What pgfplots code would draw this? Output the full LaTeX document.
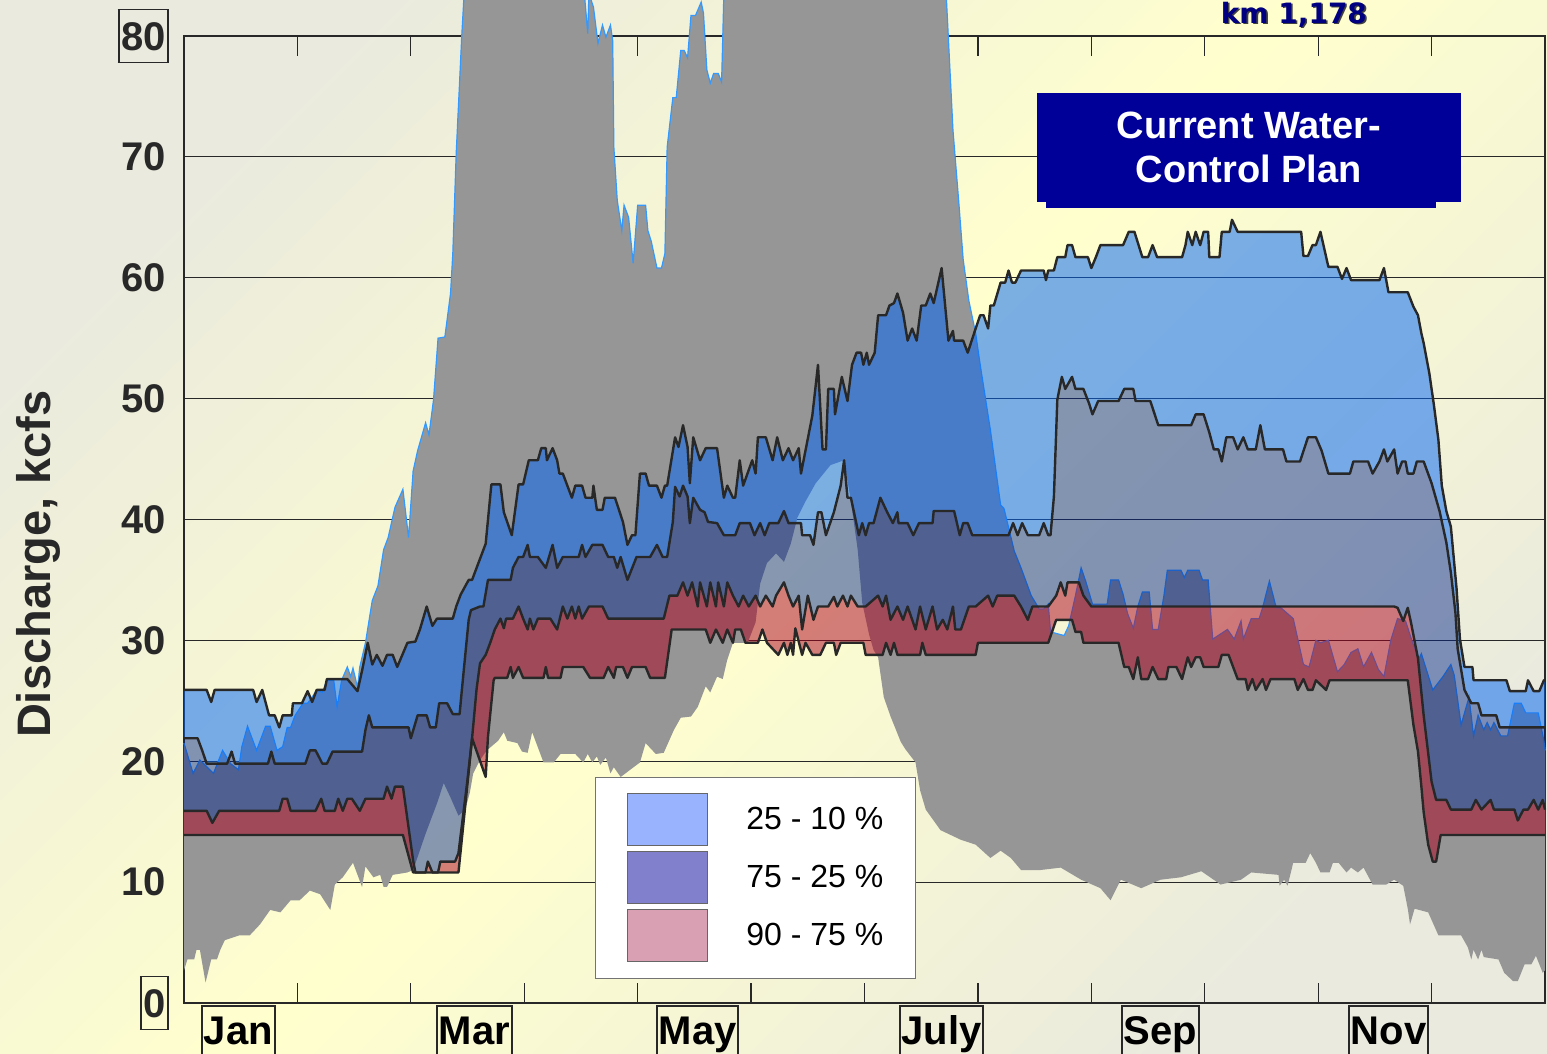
\documentclass[border=0pt]{standalone}
\usepackage{fontspec}
\setmainfont{Liberation Sans}
\newfontfamily\dejavu{DejaVu Sans}
\usepackage{pgfplots}
\usepackage{pgfplotstable}
\pgfplotsset{compat=1.18}
\usepgfplotslibrary{fillbetween}
\definecolor{bgGray}{RGB}{234,234,222}
\definecolor{bgYellow}{RGB}{255,255,206}
\definecolor{grayEnv}{RGB}{150,150,150}
\definecolor{edgeBlue}{RGB}{51,153,255}
\definecolor{bandA}{RGB}{2,102,246}
\definecolor{bandB}{RGB}{0,36,140}
\definecolor{bandC}{RGB}{171,0,30}
\definecolor{legA}{RGB}{153,179,255}
\definecolor{legB}{RGB}{128,128,204}
\definecolor{legC}{RGB}{217,160,180}
\definecolor{navy}{RGB}{0,0,153}
\definecolor{kmnavy}{RGB}{0,0,128}
\definecolor{outline}{RGB}{40,40,40}

\pgfplotstableread{
x y
0.00 25.9
0.20 25.9
0.24 24.9
0.27 25.9
0.61 25.9
0.64 24.9
0.69 25.9
0.75 23.8
0.80 23.8
0.84 22.8
0.87 23.8
0.95 23.8
0.96 24.8
1.04 24.8
1.09 25.8
1.13 24.9
1.17 25.9
1.24 25.9
1.26 26.8
1.44 26.8
1.53 25.8
1.57 27.5
1.62 29.8
1.66 28.0
1.70 28.8
1.75 27.9
1.79 28.8
1.84 28.8
1.88 27.8
1.97 29.8
2.04 29.9
2.08 30.9
2.14 32.8
2.19 31.2
2.23 31.8
2.37 31.8
2.40 32.8
2.44 33.8
2.51 35.0
2.54 35.0
2.66 38.0
2.71 42.9
2.79 42.9
2.82 40.6
2.89 38.7
2.95 42.9
2.99 42.9
3.04 44.9
3.12 44.9
3.15 45.9
3.19 45.9
3.20 44.9
3.25 45.9
3.29 44.9
3.31 43.8
3.34 43.8
3.42 41.8
3.45 42.8
3.51 42.8
3.54 41.8
3.60 41.8
3.61 42.8
3.64 40.8
3.69 40.8
3.71 41.8
3.80 41.8
3.87 39.8
3.91 37.9
3.95 38.7
3.98 38.7
4.02 43.8
4.07 43.8
4.10 42.8
4.17 42.8
4.21 41.8
4.24 42.8
4.26 42.8
4.33 46.8
4.36 46.0
4.40 47.8
4.44 46.0
4.46 43.0
4.49 46.8
4.55 44.9
4.60 45.9
4.70 45.9
4.76 41.8
4.79 42.8
4.84 41.8
4.86 41.8
4.90 44.9
4.93 42.8
5.01 44.9
5.04 43.8
5.06 46.8
5.13 46.8
5.19 44.9
5.23 46.8
5.28 44.9
5.33 45.9
5.37 44.9
5.42 45.9
5.44 43.8
5.54 48.6
5.59 52.8
5.63 45.8
5.66 45.8
5.68 50.8
5.73 50.8
5.74 48.7
5.80 51.8
5.85 49.8
5.89 52.8
5.93 53.8
5.97 53.8
5.99 52.8
6.02 53.8
6.04 52.8
6.09 53.8
6.12 56.9
6.19 56.9
6.22 57.7
6.26 57.9
6.29 58.7
6.34 57.1
6.38 54.8
6.42 55.8
6.46 54.8
6.50 57.7
6.54 57.7
6.58 58.7
6.61 57.9
6.68 60.8
6.74 54.8
6.78 55.6
6.79 54.8
6.87 54.8
6.91 53.8
6.98 55.8
7.02 56.9
7.05 56.9
7.09 55.8
7.11 57.7
7.14 57.7
7.20 59.6
7.24 59.6
7.27 60.6
7.30 59.6
7.33 59.6
7.38 60.6
7.58 60.6
7.60 59.8
7.62 60.6
7.67 60.6
7.70 61.7
7.77 61.7
7.79 62.7
7.83 62.7
7.86 61.7
7.97 61.7
8.00 60.8
8.04 61.7
8.08 62.7
8.28 62.7
8.33 63.8
8.38 63.8
8.45 61.7
8.50 61.7
8.54 62.7
8.58 61.7
8.80 61.7
8.83 62.7
8.85 63.8
8.89 62.7
8.92 63.8
8.96 62.7
8.99 63.8
9.03 63.8
9.04 61.7
9.13 61.7
9.15 63.8
9.22 63.8
9.24 64.8
9.29 63.8
9.85 63.8
9.87 61.8
9.91 61.8
9.95 62.7
9.98 62.7
10.02 63.8
10.09 60.9
10.17 60.9
10.21 59.9
10.25 60.8
10.29 59.8
10.54 59.8
10.58 60.8
10.62 58.8
10.79 58.8
10.84 57.6
10.88 56.9
10.91 55.4
10.93 54.6
10.98 52.1
11.02 49.5
11.06 46.6
11.09 42.8
11.13 40.7
11.17 39.4
11.22 34.3
11.25 30.1
11.29 27.8
11.36 27.8
11.37 26.7
11.66 26.7
11.69 25.8
11.83 25.8
11.85 26.7
11.90 25.8
11.95 25.8
11.99 26.7
12.00 26.7
}\Lten

\pgfplotstableread{
x y
0.00 21.9
0.12 21.9
0.16 20.9
0.20 19.8
0.38 19.8
0.42 20.8
0.45 19.8
0.74 19.8
0.77 20.8
0.80 19.8
1.07 19.8
1.11 20.9
1.16 20.9
1.22 19.8
1.26 19.8
1.31 20.8
1.57 20.8
1.60 22.6
1.63 23.8
1.66 22.8
1.98 22.8
2.00 21.9
2.06 23.8
2.14 23.8
2.17 22.8
2.22 22.8
2.25 24.8
2.32 24.8
2.37 23.9
2.43 23.9
2.45 25.9
2.51 31.7
2.53 32.5
2.61 32.8
2.64 32.8
2.68 35.0
2.88 35.0
2.90 36.0
2.95 36.9
2.99 36.9
3.03 37.9
3.05 36.9
3.12 36.9
3.19 36.0
3.25 37.9
3.29 36.0
3.34 36.9
3.48 36.9
3.51 37.9
3.54 36.9
3.60 37.9
3.69 37.9
3.74 36.9
3.79 36.9
3.82 36.0
3.85 36.9
3.91 35.0
3.99 36.9
4.11 36.9
4.17 37.9
4.22 36.9
4.26 36.9
4.31 39.8
4.33 42.7
4.37 41.9
4.40 42.8
4.44 41.9
4.46 39.7
4.49 41.8
4.55 40.8
4.59 40.6
4.62 39.8
4.70 39.7
4.76 38.7
4.86 38.7
4.90 39.7
4.99 39.7
5.03 38.7
5.08 39.7
5.12 38.7
5.16 39.7
5.24 39.7
5.29 40.7
5.33 39.7
5.44 39.7
5.45 38.7
5.52 38.7
5.55 37.9
5.59 40.6
5.62 40.6
5.66 38.7
5.73 40.6
5.79 42.8
5.82 44.9
5.85 41.8
5.88 41.8
5.95 38.7
5.98 39.7
6.01 38.7
6.04 39.7
6.08 39.7
6.14 41.8
6.20 40.6
6.25 39.7
6.29 40.6
6.30 39.7
6.38 39.7
6.43 38.7
6.48 39.7
6.60 39.7
6.61 40.7
6.79 40.7
6.84 38.7
6.87 39.7
6.91 39.7
6.95 38.7
7.27 38.7
7.31 39.7
7.35 38.7
7.39 39.7
7.44 38.7
7.54 38.7
7.58 39.7
7.62 38.7
7.64 38.7
7.67 41.9
7.70 49.9
7.74 51.8
7.77 50.8
7.83 51.8
7.86 50.8
7.93 50.8
7.98 49.6
8.01 48.7
8.06 49.8
8.24 49.8
8.29 50.8
8.37 50.8
8.39 49.8
8.52 49.8
8.59 47.8
8.88 47.8
8.92 48.7
8.99 48.7
9.04 47.2
9.08 45.8
9.12 45.8
9.15 44.8
9.19 46.8
9.25 46.8
9.29 45.8
9.34 46.8
9.38 45.8
9.45 45.8
9.49 47.8
9.53 45.8
9.69 45.8
9.72 44.8
9.84 44.8
9.91 46.8
9.98 46.8
10.03 45.7
10.09 43.8
10.28 43.8
10.31 44.8
10.44 44.8
10.48 43.8
10.54 44.8
10.58 45.8
10.61 44.8
10.67 45.8
10.70 43.8
10.74 44.8
10.77 44.8
10.79 43.8
10.84 43.8
10.87 44.8
10.93 44.8
11.00 43.0
11.07 40.7
11.13 38.1
11.17 35.6
11.21 32.3
11.23 29.3
11.29 25.9
11.35 24.8
11.41 24.8
11.44 23.8
11.57 23.8
11.60 22.8
12.00 22.8
}\Ltwentyfive

\pgfplotstableread{
x y
0.00 15.9
0.20 15.9
0.25 14.9
0.31 15.9
0.84 15.9
0.87 16.9
0.91 16.9
0.94 15.9
1.16 15.9
1.21 16.9
1.24 15.9
1.33 15.9
1.36 16.9
1.40 15.9
1.44 16.9
1.48 16.9
1.55 15.9
1.60 16.9
1.76 16.9
1.79 17.9
1.83 16.9
1.86 17.9
1.93 17.9
2.02 11.8
2.04 10.8
2.13 10.8
2.15 11.7
2.19 10.8
2.24 10.8
2.26 11.7
2.39 11.7
2.42 12.4
2.50 18.5
2.54 21.9
2.58 26.0
2.61 28.1
2.66 28.8
2.70 29.8
2.74 30.9
2.79 31.8
2.82 31.0
2.84 31.8
2.90 31.8
2.95 32.8
2.99 31.8
3.03 30.9
3.05 31.8
3.08 30.9
3.12 31.8
3.23 31.8
3.29 30.9
3.34 32.8
3.38 31.8
3.42 32.8
3.45 31.8
3.48 32.8
3.51 31.8
3.57 32.8
3.69 32.8
3.74 31.8
4.23 31.8
4.28 33.7
4.35 33.7
4.40 34.8
4.44 33.7
4.48 34.8
4.53 32.8
4.55 34.8
4.61 32.8
4.64 34.8
4.69 32.8
4.71 34.8
4.76 32.8
4.79 34.8
4.84 33.7
4.89 32.8
4.93 33.7
4.98 32.8
5.04 33.7
5.08 32.8
5.13 33.7
5.19 32.8
5.22 33.7
5.29 34.8
5.33 33.7
5.37 32.8
5.42 33.7
5.45 30.9
5.50 33.7
5.55 31.7
5.59 32.8
5.68 32.8
5.73 33.6
5.76 32.8
5.81 33.7
5.85 32.8
5.88 33.7
5.94 32.8
6.01 32.8
6.12 33.7
6.16 32.8
6.19 33.7
6.23 31.7
6.29 32.8
6.34 31.7
6.38 32.8
6.45 30.9
6.49 32.8
6.54 30.9
6.60 32.8
6.64 30.9
6.69 31.7
6.73 30.9
6.78 32.8
6.80 30.9
6.85 30.9
6.92 32.8
6.98 32.8
7.09 33.7
7.13 32.8
7.17 33.7
7.32 33.7
7.38 32.8
7.44 31.7
7.48 32.8
7.62 32.8
7.69 33.7
7.73 34.8
7.77 33.7
7.79 34.8
7.89 34.8
7.93 33.7
8.00 32.8
10.67 32.8
10.70 32.7
10.75 31.6
10.79 32.7
10.82 31.4
10.88 28.5
10.93 23.8
11.00 18.3
11.04 16.8
11.13 16.8
11.17 16.0
11.35 16.0
11.39 16.8
11.44 16.0
11.52 16.8
11.55 16.0
11.73 16.0
11.76 15.1
11.81 16.0
11.85 16.0
11.90 16.8
11.94 16.0
11.98 16.8
12.00 16.0
}\Lseventyfive

\pgfplotstableread{
x y
0.00 13.9
1.93 13.9
2.02 10.8
2.42 10.8
2.54 21.9
2.66 18.7
2.68 22.0
2.73 26.7
2.74 26.9
2.85 26.9
2.88 27.8
2.90 26.9
2.95 27.8
2.99 26.9
3.17 26.9
3.19 27.8
3.21 26.9
3.32 26.9
3.34 27.8
3.52 27.8
3.58 26.9
3.70 26.9
3.74 27.8
3.79 26.9
3.81 27.8
3.87 27.8
3.91 26.9
3.95 27.8
4.07 27.8
4.11 26.9
4.24 26.9
4.30 30.9
4.60 30.9
4.64 29.8
4.69 30.9
4.75 29.8
4.79 30.9
4.84 29.8
4.86 30.9
4.91 30.9
4.95 29.8
5.06 29.8
5.10 30.9
5.14 29.8
5.24 28.8
5.29 29.8
5.32 28.8
5.35 29.8
5.37 28.8
5.39 31.0
5.45 28.8
5.48 29.8
5.54 28.8
5.61 28.8
5.66 29.8
5.73 29.8
5.75 28.8
5.79 29.8
5.99 29.8
6.01 28.8
6.16 28.8
6.19 29.8
6.23 28.8
6.26 29.8
6.29 28.8
6.49 28.8
6.51 29.8
6.54 28.8
6.98 28.8
7.00 29.8
7.62 29.8
7.69 31.7
7.83 31.7
7.86 30.7
7.91 30.7
7.93 29.8
8.24 29.8
8.29 27.8
8.33 27.8
8.37 26.8
8.41 28.6
8.44 26.8
8.50 26.8
8.54 27.8
8.59 26.8
8.66 26.8
8.68 27.8
8.75 27.8
8.80 26.8
8.85 28.6
8.88 27.8
8.92 28.6
8.96 28.6
8.99 27.8
9.12 27.8
9.15 28.8
9.21 28.8
9.25 27.8
9.29 26.8
9.36 26.8
9.38 25.9
9.42 26.8
9.45 25.9
9.51 26.8
9.54 25.9
9.58 26.8
9.79 26.8
9.82 25.9
9.87 26.8
9.91 25.9
9.95 25.9
9.98 26.7
10.07 25.9
10.10 26.7
10.79 26.7
10.84 23.0
10.88 20.8
10.91 17.9
10.93 15.8
10.97 13.1
11.01 11.7
11.04 11.7
11.08 13.9
12.00 13.9
}\Lninety

\pgfplotstableread{
x y
0.00 21.5
0.08 19.0
0.14 20.1
0.26 19.0
0.34 20.9
0.41 19.8
0.48 19.3
0.51 21.2
0.56 22.9
0.64 20.9
0.72 22.9
0.76 22.9
0.82 20.9
0.87 21.2
0.91 22.8
0.94 22.8
0.98 23.8
1.05 24.8
1.09 24.8
1.13 25.3
1.17 25.9
1.22 25.7
1.26 26.7
1.32 26.7
1.35 24.5
1.39 26.7
1.44 27.8
1.47 27.0
1.49 27.7
1.53 26.1
1.55 27.8
1.60 29.8
1.66 33.3
1.71 34.5
1.76 37.5
1.80 38.5
1.86 41.0
1.93 42.5
1.98 38.5
2.02 44.0
2.06 45.7
2.13 48.0
2.16 47.0
2.20 49.9
2.24 55.0
2.30 55.1
2.35 58.7
2.37 62.0
2.40 70.3
2.45 80.2
2.47 83.5
3.53 83.5
3.56 80.2
3.57 83.5
3.61 82.4
3.65 79.4
3.69 80.9
3.72 79.9
3.76 80.9
3.78 79.6
3.79 70.8
3.82 66.4
3.86 63.9
3.88 66.0
3.92 65.0
3.96 61.2
4.00 66.0
4.07 66.0
4.09 63.9
4.12 63.0
4.17 60.8
4.21 60.8
4.24 62.0
4.26 70.8
4.31 74.9
4.34 74.9
4.38 78.8
4.41 78.8
4.44 78.2
4.47 81.7
4.51 81.7
4.56 82.8
4.58 81.9
4.61 77.2
4.64 76.1
4.67 76.9
4.71 76.9
4.74 76.2
4.76 83.5
6.72 83.5
6.78 72.2
6.83 66.4
6.87 61.5
6.92 58.1
6.98 55.4
7.02 52.8
7.11 47.4
7.20 41.2
7.23 40.9
7.32 37.4
7.38 36.0
7.47 33.7
7.54 32.6
7.58 32.6
7.62 33.0
7.64 30.7
7.76 30.4
7.80 31.2
7.86 33.7
7.91 36.0
7.95 34.9
8.01 33.0
8.14 33.0
8.17 35.0
8.24 35.0
8.28 33.8
8.32 32.2
8.37 31.0
8.41 32.8
8.45 34.0
8.51 34.0
8.54 30.9
8.59 30.9
8.64 33.7
8.67 35.8
8.79 35.8
8.82 35.2
8.85 35.8
8.95 35.8
8.98 35.0
9.03 35.0
9.07 30.1
9.20 30.9
9.26 30.1
9.32 31.6
9.34 30.1
9.41 31.8
9.48 31.8
9.51 32.7
9.57 34.9
9.63 32.7
9.67 32.7
9.78 31.8
9.87 28.0
9.92 27.8
9.98 30.0
10.02 29.8
10.09 30.0
10.17 27.4
10.23 28.0
10.29 29.0
10.35 29.3
10.40 27.8
10.47 29.0
10.53 27.6
10.58 27.0
10.64 30.0
10.70 31.8
10.77 31.6
10.84 29.6
10.89 28.5
10.91 28.9
11.01 25.9
11.10 27.0
11.17 28.0
11.20 27.1
11.26 23.0
11.33 25.3
11.37 22.1
11.41 23.8
11.46 22.6
11.49 23.2
11.52 22.6
11.55 23.2
11.61 22.1
11.67 22.1
11.73 24.8
11.79 24.8
11.83 24.0
11.94 24.0
11.99 21.7
12.00 20.9
}\Gmax

\pgfplotstableread{
x y
0.00 2.7
0.03 3.6
0.09 3.6
0.11 4.4
0.14 4.4
0.19 1.7
0.24 3.6
0.29 3.6
0.32 4.4
0.36 5.2
0.49 5.6
0.58 5.6
0.67 6.5
0.76 7.7
0.85 7.5
0.94 8.5
1.02 8.5
1.11 9.3
1.20 9.0
1.29 7.7
1.33 9.8
1.40 10.4
1.49 11.6
1.57 9.6
1.60 11.3
1.67 10.4
1.73 10.6
1.76 9.6
1.79 9.6
1.84 10.6
1.97 10.8
2.02 11.0
2.13 14.0
2.23 16.5
2.29 18.2
2.35 17.0
2.42 15.5
2.48 16.0
2.52 17.4
2.55 19.0
2.61 20.1
2.67 20.9
2.77 21.7
2.82 22.4
2.85 21.7
2.94 21.5
2.98 20.8
3.03 20.7
3.07 22.4
3.17 19.9
3.26 19.9
3.32 20.6
3.45 20.6
3.52 19.9
3.56 20.6
3.60 19.9
3.64 20.4
3.67 19.7
3.72 20.3
3.76 19.0
3.79 19.5
3.85 18.7
4.02 19.9
4.07 21.5
4.16 20.6
4.23 20.7
4.32 22.6
4.38 23.6
4.47 23.7
4.53 24.5
4.60 26.2
4.64 25.7
4.70 27.0
4.75 26.8
4.79 28.4
4.84 29.8
4.97 29.8
5.04 31.5
5.08 34.7
5.14 36.4
5.22 37.2
5.29 36.5
5.35 38.0
5.41 40.2
5.48 41.5
5.57 43.0
5.70 44.5
5.82 44.9
5.88 41.5
5.94 37.5
5.98 33.1
6.04 30.5
6.08 29.2
6.12 28.6
6.17 25.3
6.23 23.7
6.32 21.6
6.36 21.0
6.45 19.9
6.49 17.6
6.54 16.0
6.67 14.3
6.76 13.9
6.85 13.5
6.98 13.1
7.11 12.0
7.20 12.6
7.29 12.0
7.38 11.0
7.55 11.0
7.73 11.2
7.91 10.2
8.08 9.5
8.17 8.5
8.26 10.2
8.44 9.5
8.61 10.2
8.79 10.4
8.97 10.9
9.14 9.8
9.32 10.2
9.41 10.8
9.65 10.6
9.66 9.7
9.70 10.2
9.73 9.7
9.78 11.6
9.89 11.6
9.93 12.4
9.98 11.6
10.02 10.8
10.10 10.8
10.13 11.6
10.18 11.6
10.25 10.8
10.29 11.2
10.35 10.8
10.40 11.2
10.48 9.8
10.60 9.8
10.67 10.2
10.75 9.7
10.79 7.8
10.81 6.5
10.85 7.8
10.97 7.5
11.06 5.6
11.26 5.6
11.32 4.6
11.35 3.6
11.37 4.4
11.41 3.6
11.44 4.4
11.46 3.8
11.59 3.6
11.64 2.5
11.72 1.8
11.76 1.8
11.82 3.2
11.88 3.2
11.92 3.9
11.98 2.5
12.00 2.7
}\Gmin

\newcommand{\boxlab}[1]{\setlength{\fboxsep}{0.8pt}\setlength{\fboxrule}{0.9pt}\fbox{\rule[-4.8pt]{0pt}{24pt}#1}\kern-1.7pt}

\begin{document}
\begin{tikzpicture}
\begin{axis}[
  set layers,
  scale only axis, width=680.5pt, height=483.5pt,
  xmin=0, xmax=12, ymin=0, ymax=80,
  clip=false, no markers,
  axis line style={outline, line width=0.7pt},
  tick align=inside, major tick length=10pt,
  xtick={1,2,3,4,5,6,7,8,9,10,11},
  xticklabels={,,,,,,,,,,},
  xtick style={outline, line width=0.6pt},
  extra x ticks={0.48,2.56,4.53,6.68,8.61,10.62},
  extra x tick labels={Jan,Mar,May,July,Sep,Nov},
  extra x tick style={major tick length=0pt,
     tick label style={draw=outline, line width=1pt, font=\fontsize{20}{24}\selectfont\bfseries,
       inner xsep=0.8pt, inner ysep=0pt, text height=19.5pt, text depth=12pt, anchor=north, yshift=-1pt}},
  ytick={0,10,20,30,40,50,60,70,80},
  yticklabels={\boxlab{0},10,20,30,40,50,60,70,\boxlab{80}},
  ytick style={draw=none},
  yticklabel style={font=\fontsize{20}{24}\selectfont\bfseries, text=outline, anchor=east, inner sep=0pt, xshift=-9pt},
  ymajorgrids,
  major grid style={outline, line width=0.6pt},
  legend style={at={(rel axis cs:0.302,0.2337)}, anchor=north west, draw=black!55, fill=white,
     font=\fontsize{16}{19}\selectfont, inner xsep=16pt, inner ysep=8pt, row sep=2.5pt, column sep=19pt,
     nodes={inner sep=0pt}},
  legend cell align=left,
]
% background
\begin{pgfonlayer}{axis background}
\shade[top color=bgGray,bottom color=bgGray,middle color=bgYellow,shading angle=45]
  (axis cs:-1.624,-4.22) rectangle (axis cs:12.027,82.96);
\end{pgfonlayer}
% gray envelope
\addplot[draw=none, forget plot, name path=gmax] table {\Gmax};
\addplot[draw=none, forget plot, name path=gmin] table {\Gmin};
\addplot[fill=grayEnv, draw=none, forget plot] fill between[of=gmax and gmin];
\addplot[on layer=pre main, forget plot, color=edgeBlue, line width=0.6pt] table {\Gmax};
% percentile bands
\addplot[draw=none, forget plot, name path=l10] table {\Lten};
\addplot[draw=none, forget plot, name path=l25] table {\Ltwentyfive};
\addplot[draw=none, forget plot, name path=l75] table {\Lseventyfive};
\addplot[draw=none, forget plot, name path=l90] table {\Lninety};
\addplot[fill=bandA, fill opacity=0.52, draw=none, forget plot] fill between[of=l10 and l25];
\addplot[fill=bandB, fill opacity=0.47, draw=none, forget plot] fill between[of=l25 and l75];
\addplot[fill=bandC, fill opacity=0.50, draw=none, forget plot] fill between[of=l75 and l90];
% outlines
\addplot[forget plot, color=outline, line width=1.2pt, line join=round] table {\Lten};
\addplot[forget plot, color=outline, line width=1.2pt, line join=round] table {\Ltwentyfive};
\addplot[forget plot, color=outline, line width=1.2pt, line join=round] table {\Lseventyfive};
\addplot[forget plot, color=outline, line width=1.2pt, line join=round] table {\Lninety};
% legend
\addlegendimage{legend image code/.code={\draw[fill=legA,draw=black!60,line width=0.5pt] (0pt,-13pt) rectangle (40pt,13pt);}}
\addlegendentry{25 - 10 \%}
\addlegendimage{legend image code/.code={\draw[fill=legB,draw=black!60,line width=0.5pt] (0pt,-13pt) rectangle (40pt,13pt);}}
\addlegendentry{75 - 25 \%}
\addlegendimage{legend image code/.code={\draw[fill=legC,draw=black!60,line width=0.5pt] (0pt,-13pt) rectangle (40pt,13pt);}}
\addlegendentry{90 - 75 \%}
% annotations
\fill[navy] (axis cs:7.597,66.4) rectangle (axis cs:11.039,65.76);
\node[fill=navy, text=white, font=\fontsize{19}{22}\selectfont\bfseries, align=center,
      minimum width=212pt, minimum height=54.5pt, inner sep=0pt] at (axis cs:9.389,70.76) {Current Water-\\Control Plan};
\node[font=\dejavu\bfseries\fontsize{14}{16}\selectfont, text=black!75, anchor=base] at (axis cs:9.80,80.94) {km 1,178};
\node[font=\dejavu\bfseries\fontsize{14}{16}\selectfont, text=kmnavy, anchor=base] at (axis cs:9.786,81.06) {km 1,178};
\node[rotate=90, font=\fontsize{23.5}{28}\selectfont\bfseries, text=outline] at (axis cs:-1.284,36.3) {Discharge, kcfs};
\end{axis}
\pgfresetboundingbox
\path[use as bounding box] (-92pt,-25.5pt) rectangle (681.5pt,501.5pt);
\end{tikzpicture}
\end{document}
